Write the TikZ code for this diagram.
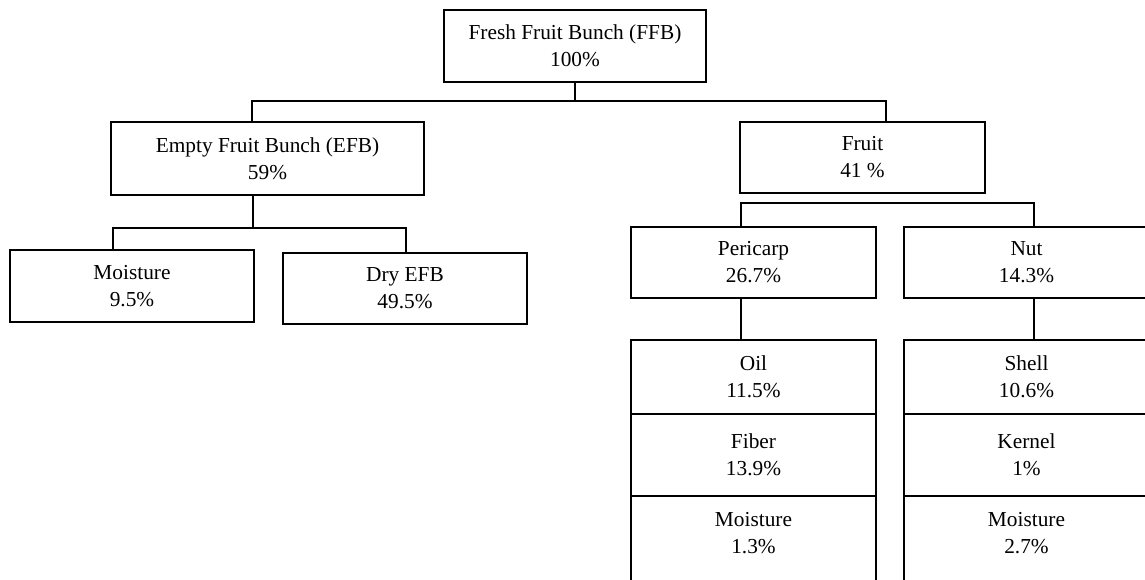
\documentclass[tikz,border=0pt]{standalone}
\usepackage{fontspec}
\setmainfont{Liberation Serif}
\usetikzlibrary{calc}
\newfontfamily\labelfont{Liberation Serif}
\tikzset{
  cell/.style={draw, line width=1.3pt, inner sep=0pt, align=center,
    font=\labelfont\fontsize{16}{20.2}\selectfont},
  txt/.style={inner sep=0pt, align=center,
    font=\labelfont\fontsize{16}{20.2}\selectfont},
  link/.style={line width=1.3pt}
}
\begin{document}
\begin{tikzpicture}[x=0.75pt,y=-0.75pt]
\useasboundingbox (0,0) rectangle (1145,580);
\clip (0,0) rectangle (1145,580);
\fill[white] (0,0) rectangle (1145,580);

% level 0
\node[cell, minimum width=196.5pt, minimum height=54pt] (ffb) at (575,46)
  {Fresh Fruit Bunch (FFB)\\100\%};

% level 1
\node[cell, minimum width=234.75pt, minimum height=54.75pt] (efb) at (267.5,158.5)
  {Empty Fruit Bunch (EFB)\\59\%};
\node[cell, minimum width=183.75pt, minimum height=53.25pt] (fruit) at (862.5,157.5)
  {Fruit\\41 \%};

% level 2, bunch side
\node[cell, minimum width=183pt, minimum height=54pt] (mst) at (132,286)
  {Moisture\\9.5\%};
\node[cell, minimum width=183pt, minimum height=53.25pt] (dry) at (405,288.5)
  {Dry EFB\\49.5\%};

% level 2, fruit side
\node[cell, minimum width=183.75pt, minimum height=53.25pt] (peri) at (753.5,262.5)
  {Pericarp\\26.7\%};
\node[cell, minimum width=183.75pt, minimum height=53.25pt] (nut) at (1026.5,262.5)
  {Nut\\14.3\%};

% pericarp breakdown
\node[cell, minimum width=183.75pt, minimum height=55.5pt] (oil) at (753.5,377)
  {Oil\\11.5\%};
\node[cell, minimum width=183.75pt, minimum height=61.5pt] (fib) at (753.5,455)
  {Fiber\\13.9\%};
\node[cell, minimum width=183.75pt, minimum height=85.5pt] (pmo) at (753.5,553) {};
\node[txt] (pmotxt) at ($(pmo.north)+(0,38)$) {Moisture\\1.3\%};

% nut breakdown
\node[cell, minimum width=183.75pt, minimum height=55.5pt] (shell) at (1026.5,377)
  {Shell\\10.6\%};
\node[cell, minimum width=183.75pt, minimum height=61.5pt] (kern) at (1026.5,455)
  {Kernel\\1\%};
\node[cell, minimum width=183.75pt, minimum height=85.5pt] (nmo) at (1026.5,553) {};
\node[txt] (nmotxt) at ($(nmo.north)+(0,38)$) {Moisture\\2.7\%};

% bus lines
\coordinate (b1m) at (575,101);
\coordinate (b1l) at (252,101);
\coordinate (b1r) at (886,101);
\coordinate (b2m) at (253,228);
\coordinate (b2l) at (113,228);
\coordinate (b2r) at (406,228);
\coordinate (b3l) at (741,203);
\coordinate (b3r) at (1034,203);

\draw[link] (ffb.south) -- (b1m);
\draw[link] (efb.north -| b1l) -- (b1l) -- (b1r) -- (fruit.north -| b1r);

\draw[link] (efb.south -| b2m) -- (b2m);
\draw[link] (mst.north -| b2l) -- (b2l) -- (b2r) -- (dry.north -| b2r);

\draw[link] (peri.north -| b3l) -- (b3l) -- (b3r) -- (nut.north -| b3r);

\draw[link] (peri.south -| b3l) -- (oil.north -| b3l);
\draw[link] (nut.south -| b3r) -- (shell.north -| b3r);
\end{tikzpicture}
\end{document}
